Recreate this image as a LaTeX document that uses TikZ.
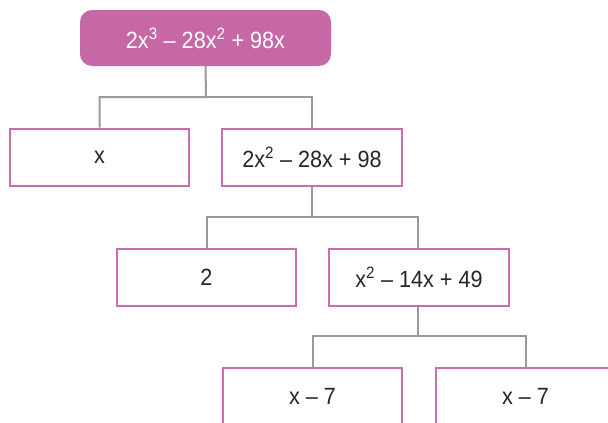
\documentclass[tikz,border=0pt]{standalone}
\usepackage{fontspec}
\setmainfont{Liberation Sans}[FakeStretch=0.92]
\definecolor{pinkfill}{HTML}{C668A6}
\definecolor{pinkline}{HTML}{CC6BAE}
\definecolor{greyline}{HTML}{9A9A9C}
\tikzset{
  box/.style={draw=pinkline, line width=2pt, fill=white, minimum width=179pt, minimum height=57pt, inner sep=0pt, text=black!85, font=\fontsize{23.5}{28}\selectfont},
  topbox/.style={fill=pinkfill, rounded corners=12pt, minimum width=251pt, minimum height=56pt, inner sep=0pt, text=white, font=\fontsize{23.5}{28}\selectfont},
  conn/.style={draw=greyline, line width=2pt}
}
\begin{document}
\begin{tikzpicture}[x=1pt,y=-1pt]
\useasboundingbox (0,0) rectangle (608,423);
\clip (0,0) rectangle (608,423);
\node[topbox] (top) at (205.5,38) {2x\textsuperscript{3} – 28x\textsuperscript{2} + 98x};
\node[box] (a) at (99.5,157) {x};
\node[box, minimum width=180pt] (b) at (312,157) {2x\textsuperscript{2} – 28x + 98};
\node[box] (c) at (206.5,277.5) {2};
\node[box, minimum width=180pt] (d) at (419,277.5) {x\textsuperscript{2} – 14x + 49};
\node[box] (e) at (312.5,396.5) {x – 7};
\node[box] (f) at (525.5,396.5) {x – 7};
\coordinate (j1) at (206,97);
\coordinate (j2) at (312,217);
\coordinate (j3) at (418,336);
\draw[conn] (top.south) -- (j1) -| (a.north);
\draw[conn] (j1) -| (b.north);
\draw[conn] (b.south) -- (j2) -| (c.north);
\draw[conn] (j2) -| ([xshift=-1pt]d.north);
\draw[conn] ([xshift=-1pt]d.south) -- (j3) -| (e.north);
\draw[conn] (j3) -| (f.north);
\end{tikzpicture}
\end{document}
